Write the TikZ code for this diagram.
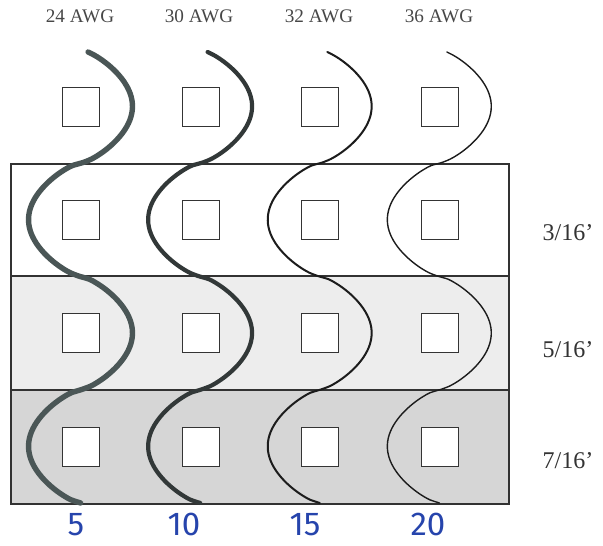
\documentclass[tikz,border=0pt]{standalone}
\usepackage{fontspec}
\setmainfont{Liberation Serif}
\newfontfamily\handfont{Fira Sans}
\usepackage{tikz}
\definecolor{coilInk}{RGB}{52,52,52}
\definecolor{coilFrame}{RGB}{50,50,50}
\definecolor{coilThick}{RGB}{74,86,86}
\definecolor{coilMid}{RGB}{50,56,56}
\definecolor{coilThin}{RGB}{28,28,28}
\definecolor{coilBandA}{RGB}{255,255,255}
\definecolor{coilBandB}{RGB}{237,237,237}
\definecolor{coilBandC}{RGB}{214,214,214}
\definecolor{coilPen}{RGB}{38,68,172}
\tikzset{
  % the wave of a winding: half a wave per band, a bit fuller than a sine
  declare function={
    coilsin(\t) = sin(1.5883*(\t-163));
    coil(\t) = -coilsin(\t)/pow(abs(coilsin(\t))+0.001,0.3);
  },
  % one shaded spacing band of the board
  band/.style={
    draw=coilFrame, line width=1pt, inner sep=0pt,
    minimum width=249pt, anchor=north west
  },
  % the square pads between the windings
  pad/.style={
    draw=coilInk, fill=white, line width=0.5pt, inner sep=0pt,
    minimum width=18.5pt, minimum height=19.5pt
  },
  % the winding itself
  wire/.style={line cap=round, line join=round},
  % labels
  gauge/.style={font=\fontsize{9.6}{11}\selectfont, text=black!72, inner sep=0pt, anchor=base},
  pitch/.style={font=\fontsize{12}{14}\selectfont, text=black!80, inner sep=0pt, anchor=base},
  turns/.style={font=\handfont\fontsize{16.5}{18}\selectfont, text=coilPen, inner sep=0pt, anchor=base},
}

\begin{document}
\begin{tikzpicture}[x=0.5pt, y=-0.5pt]
\useasboundingbox (0,0) rectangle (603,545);

% ===========================================================================
% BANDS: three spacing rows
% ===========================================================================
\node[band, fill=coilBandA, minimum height=56pt] (row_a) at (10,163) {};
\node[band, fill=coilBandB, minimum height=57pt] (row_b) at (10,275) {};
\node[band, fill=coilBandC, minimum height=57pt] (row_c) at (10,389) {};

% ===========================================================================
% WINDINGS: one wave per gauge
% ===========================================================================
\draw[wire, draw=coilThick, line width=2.7pt]
      plot[domain=52:503, samples=140, smooth] ({80.5+52*coil(\x)}, \x);
\draw[wire, draw=coilMid, line width=2.1pt]
      plot[domain=52:503, samples=140, smooth] ({200.1+52*coil(\x)}, \x);
\draw[wire, draw=coilThin, line width=1.0pt]
      plot[domain=52:503, samples=140, smooth] ({319.7+52*coil(\x)}, \x);
\draw[wire, draw=coilThin, line width=0.7pt]
      plot[domain=52:503, samples=140, smooth] ({439.3+52*coil(\x)}, \x);

% ===========================================================================
% PADS
% ===========================================================================
\node[pad] (pad_top_1) at (81,107) {};
\node[pad] (pad_top_2) at (200.5,107) {};
\node[pad] (pad_top_3) at (320,107) {};
\node[pad] (pad_top_4) at (439.5,107) {};

\node[pad] (pad_a_1) at (81,220) {};
\node[pad] (pad_a_2) at (200.5,220) {};
\node[pad] (pad_a_3) at (320,220) {};
\node[pad] (pad_a_4) at (439.5,220) {};

\node[pad] (pad_b_1) at (81,333) {};
\node[pad] (pad_b_2) at (200.5,333) {};
\node[pad] (pad_b_3) at (320,333) {};
\node[pad] (pad_b_4) at (439.5,333) {};

\node[pad] (pad_c_1) at (81,447) {};
\node[pad] (pad_c_2) at (200.5,447) {};
\node[pad] (pad_c_3) at (320,447) {};
\node[pad] (pad_c_4) at (439.5,447) {};

% ===========================================================================
% LABELS
% ===========================================================================
\node[gauge] (awg_24) at (80,23) {24 AWG};
\node[gauge] (awg_30) at (199,23) {30 AWG};
\node[gauge] (awg_32) at (319,23) {32 AWG};
\node[gauge] (awg_36) at (439,23) {36 AWG};

\node[pitch] (pitch_3) at (568,240) {3/16’};
\node[pitch] (pitch_5) at (568,357) {5/16’};
\node[pitch] (pitch_7) at (568,468) {7/16’};

\node[turns] (turns_5)  at (76,535) {5};
\node[turns] (turns_10) at (184,535) {10};
\node[turns] (turns_15) at (305,535) {15};
\node[turns] (turns_20) at (428,535) {20};

\end{tikzpicture}
\end{document}
